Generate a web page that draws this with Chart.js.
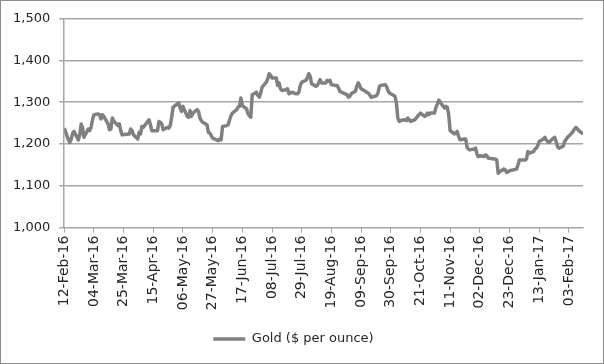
<!DOCTYPE html>
<html>
<head>
<meta charset="utf-8">
<script src="https://cdn.jsdelivr.net/npm/chart.js@4.4.0/dist/chart.umd.min.js"></script>
<style>
  html, body { margin: 0; padding: 0; background: #fff; }
  #wrap { width: 604px; height: 364px; }
</style>
</head>
<body>
<div id="wrap"><canvas id="goldChart" width="604" height="364"></canvas></div>
<script>
// first trading day on the chart, calendar days shown on the axis
const startDate = new Date(2016, 1, 12);
const lastDay = 367;

// tick labels, one every 21 calendar days
const tickLabels = ['12-Feb-16', '04-Mar-16', '25-Mar-16', '15-Apr-16', '06-May-16', '27-May-16',
    '17-Jun-16', '08-Jul-16', '29-Jul-16', '19-Aug-16', '09-Sep-16', '30-Sep-16',
    '21-Oct-16', '11-Nov-16', '02-Dec-16', '23-Dec-16', '13-Jan-17', '03-Feb-17'];

// Gold ($ per ounce), one value per weekday (Mon-Fri), null = market closed
const goldPrices = [
    1238,
    1210, 1204, 1212, 1226, 1230,   // 15-Feb
    1210, 1222, 1248, 1238, 1216,   // 22-Feb
    1236, 1232, 1240, 1258, 1270,   // 29-Feb
    1272, 1270, 1260, 1270, 1266,   // 07-Mar
    1248, 1234, 1236, 1262, 1255,   // 14-Mar
    1244, 1248, 1232, 1222, null,   // 21-Mar
    null, 1224, 1236, 1232, 1222,   // 28-Mar
    1212, 1228, 1224, 1242, 1240,   // 04-Apr
    1254, 1258, 1246, 1232, 1232,   // 11-Apr
    1232, 1254, 1252, 1248, 1234,   // 18-Apr
    1240, 1238, 1244, 1264, 1288,   // 25-Apr
    null, 1298, 1286, 1278, 1290,   // 02-May
    1266, 1264, 1280, 1266, 1274,   // 09-May
    1282, 1278, 1262, 1256, 1252,   // 16-May
    1246, 1228, 1226, 1220, 1214,   // 23-May
    null, 1208, 1212, 1210, 1242,   // 30-May
    1244, 1246, 1258, 1268, 1274,   // 06-Jun
    1282, 1288, 1290, 1310, 1292,   // 13-Jun
    1284, 1272, 1268, 1264, 1318,   // 20-Jun
    1324, 1316, 1312, 1322, 1336,   // 27-Jun
    1348, 1356, 1368, 1364, 1358,   // 04-Jul
    1358, 1340, 1346, 1332, 1328,   // 11-Jul
    1330, 1332, 1320, 1322, 1324,   // 18-Jul
    1320, 1320, 1324, 1340, 1348,   // 25-Jul
    1352, 1358, 1368, 1362, 1344,   // 01-Aug
    1338, 1340, 1346, 1354, 1346,   // 08-Aug
    1346, 1352, 1350, 1352, 1342,   // 15-Aug
    1340, 1340, 1334, 1326, 1324,   // 22-Aug
    null, 1318, 1312, 1314, 1320,   // 29-Aug
    1326, 1338, 1346, 1340, 1332,   // 05-Sep
    1326, 1324, 1322, 1318, 1312,   // 12-Sep
    1314, 1316, 1322, 1338, 1340,   // 19-Sep
    1342, 1338, 1328, 1322, 1320,   // 26-Sep
    1314, 1298, 1262, 1254, 1256,   // 03-Oct
    1258, 1256, 1262, 1258, 1254,   // 10-Oct
    1258, 1262, 1266, 1270, 1274,   // 17-Oct
    1266, 1268, 1274, 1270, 1274,   // 24-Oct
    1274, 1288, 1296, 1305, 1300,   // 31-Oct
    1286, 1290, 1288, 1270, 1232,   // 07-Nov
    1224, 1226, 1230, 1218, 1210,   // 14-Nov
    1212, 1212, 1192, 1188, 1186,   // 21-Nov
    1188, 1190, 1176, 1170, 1172,   // 28-Nov
    1170, 1174, 1172, 1166, 1166,   // 05-Dec
    1164, 1164, 1162, 1130, 1134,   // 12-Dec
    1140, 1138, 1132, 1134, 1136,   // 19-Dec
    null, null, 1140, 1150, 1162,   // 26-Dec
    null, 1162, 1164, 1182, 1178,   // 02-Jan
    1182, 1188, 1190, 1196, 1206,   // 09-Jan
    1212, 1216, 1210, 1206, 1204,   // 16-Jan
    1214, 1216, 1206, 1194, 1190,   // 23-Jan
    1195, 1206, 1211, 1216, 1219,   // 30-Jan
    1230, 1236, 1240, 1236, 1232,   // 06-Feb
    1224                            // 13-Feb
];

// calendar offset of every weekday, so prices sit on a date axis like Excel
function weekdayOffsets() {
    const out = [];
    for (let d = 0; d <= lastDay; d++) {
        const dt = new Date(startDate.getTime());
        dt.setDate(dt.getDate() + d);
        const dow = dt.getDay();
        if (dow !== 0 && dow !== 6) out.push(d);
    }
    return out;
}

const offsets = weekdayOffsets();
const points = goldPrices.map((v, i) => ({ x: offsets[i], y: v }));

const gridGray = '#a6a6a6';
const textColor = '#262626';
const lineGray = '#808080';

// thin grey frame round the whole picture
const frame = {
    id: 'frame',
    afterDraw(chart) {
        const ctx = chart.ctx;
        ctx.save();
        ctx.strokeStyle = '#8c8c8c';
        ctx.lineWidth = 1;
        ctx.strokeRect(0.5, 0.5, chart.width - 1, chart.height - 1);
        ctx.restore();
    }
};

Chart.defaults.font.family = 'DejaVu Sans';
Chart.defaults.color = textColor;

new Chart(document.getElementById('goldChart'), {
    type: 'line',
    data: {
        datasets: [{
            label: 'Gold ($ per ounce)',
            data: points,
            borderColor: lineGray,
            backgroundColor: lineGray,
            borderWidth: 3.5,
            pointRadius: 0,
            tension: 0,
            spanGaps: true,
            borderJoinStyle: 'round'
        }]
    },
    options: {
        responsive: false,
        animation: false,
        layout: { padding: { left: 4, right: 21, top: 18.5, bottom: 8.5 } },
        plugins: {
            legend: {
                position: 'bottom',
                labels: {
                    usePointStyle: true,
                    pointStyle: 'line',
                    pointStyleWidth: 32,
                    font: { size: 13 },
                    color: textColor
                }
            },
            tooltip: { enabled: false }
        },
        scales: {
            x: {
                type: 'linear',
                min: 0,
                max: lastDay,
                afterFit: (scale) => { scale.height = 94.8; },
                grid: { drawOnChartArea: false, drawTicks: true, tickLength: 5, color: gridGray },
                border: { color: gridGray },
                ticks: {
                    stepSize: 21,
                    includeBounds: false,
                    autoSkip: false,
                    maxRotation: 90,
                    minRotation: 90,
                    font: { size: 14 },
                    color: textColor,
                    callback: (v) => tickLabels[Math.round(v / 21)] || ''
                }
            },
            y: {
                min: 1000,
                max: 1500,
                grid: { color: gridGray, lineWidth: 1.5, tickLength: 5 },
                border: { color: gridGray, width: 1.5 },
                ticks: {
                    stepSize: 100,
                    padding: 9,
                    font: { size: 13 },
                    color: textColor,
                    callback: (v) => v.toLocaleString('en-US')
                }
            }
        }
    },
    plugins: [frame]
});
</script>
</body>
</html>
